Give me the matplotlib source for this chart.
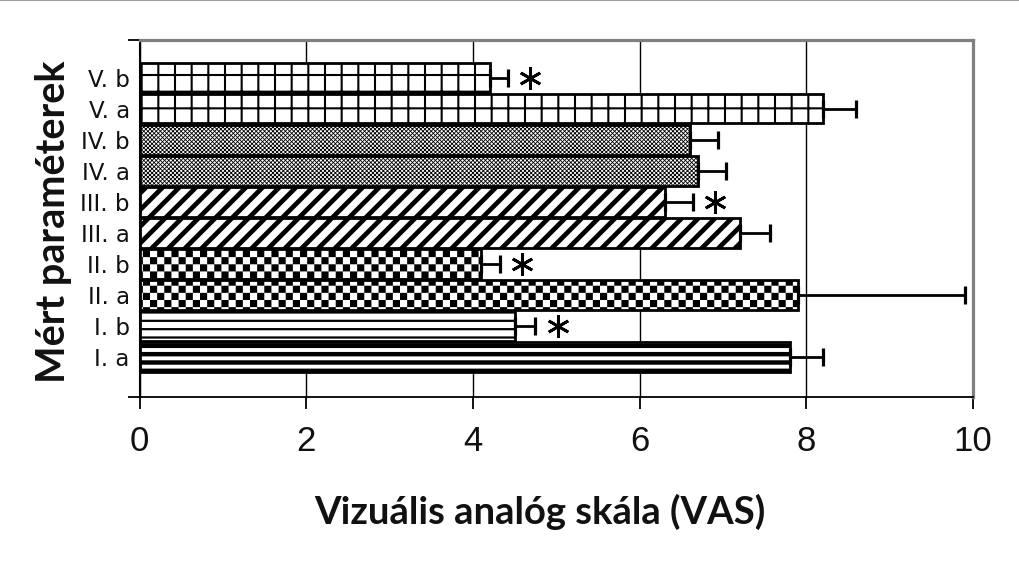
import warnings
warnings.filterwarnings("ignore")
import numpy as np
import matplotlib
matplotlib.use("Agg")
import matplotlib.pyplot as plt
import matplotlib.hatch as mhatch
from matplotlib.path import Path
from matplotlib.lines import Line2D

# ---------------- data ----------------
labels = ["I. a", "I. b", "II. a", "II. b", "III. a", "III. b",
          "IV. a", "IV. b", "V. a", "V. b"]
values = [7.8, 4.5, 7.9, 4.1, 7.2, 6.3, 6.7, 6.6, 8.2, 4.2]
errors = [0.4, 0.25, 2.0, 0.22, 0.36, 0.34, 0.34, 0.34, 0.4, 0.22]
significant = [False, True, False, True, False, True, False, False, False, True]
x_ticks = [0, 2, 4, 6, 8, 10]
x_label = "Vizuális analóg skála (VAS)"
y_label = "Mért paraméterek"

# hatch style per bar (groups I..V, a and b)
group_hatch = ["--", "--", "c", "c", "//", "//", "xxxxxxxx", "xxxxxxxx", "+", "+"]
group_hatch_lw = [3.2, 1.6, 0.0, 0.0, 3.4, 3.4, 0.6, 0.6, 1.5, 1.5]


# custom checkerboard hatch ('c')
class CheckerHatch(mhatch.HatchPatternBase):
    def __init__(self, hatch, density):
        self.n = 14 if "c" in hatch else 0
        self.num_vertices = (self.n * self.n // 2) * 5 if self.n else 0

    def set_vertices_and_codes(self, vertices, codes):
        s = 1.0 / self.n
        sq = np.array([[0, 0], [s, 0], [s, s], [0, s], [0, 0]], float)
        parts = []
        for i in range(self.n):
            for j in range(self.n):
                if (i + j) % 2 == 0:
                    parts.append(sq + [i * s, j * s])
        vertices[:] = np.concatenate(parts)
        codes[:] = np.tile([Path.MOVETO, Path.LINETO, Path.LINETO,
                            Path.LINETO, Path.CLOSEPOLY], len(parts))


mhatch._hatch_types.append(CheckerHatch)


def set_hatch_lw(patch, lw):
    if hasattr(patch, "set_hatch_linewidth"):
        patch.set_hatch_linewidth(lw)
    orig = patch.draw

    def draw(renderer, _orig=orig, _lw=lw):
        with plt.rc_context({"hatch.linewidth": _lw}):
            _orig(renderer)
    patch.draw = draw


fig = plt.figure(figsize=(10.2, 5.73), dpi=100)
ax = fig.add_axes([139.5 / 1020, 1 - 396.5 / 573, (973 - 139.5) / 1020,
                   (396.5 - 39.5) / 573])

y = np.arange(len(labels))
bars = ax.barh(y, values, height=0.95, color="white", edgecolor="black",
               linewidth=2.0, zorder=3)
for b, h, lw in zip(bars, group_hatch, group_hatch_lw):
    b.set_hatch(h)
    set_hatch_lw(b, lw)

ax.errorbar(values, y, xerr=[np.zeros(len(values)), errors], fmt="none",
            ecolor="black", elinewidth=2.0, capsize=6.5, capthick=2.3,
            zorder=4)

star_x = [v + e + 0.27 for v, e, s in zip(values, errors, significant) if s]
star_y = [yy for yy, s in zip(y, significant) if s]
ax.plot(star_x, star_y, linestyle="none", marker=(6, 2, 0), markersize=16,
        markeredgewidth=2.0, color="black", zorder=5)

ax.set_xlim(0, 10)
ax.set_ylim(-1.27, 10.23)
ax.set_xticks(x_ticks)
ax.set_xticklabels([str(t) for t in x_ticks])
ax.set_yticks(y)
ax.set_yticklabels(labels)
ax.set_yticks([-1.27, 10.23], minor=True)
ax.tick_params(axis="y", which="major", length=0, pad=7, labelcolor="#111111")
ax.tick_params(axis="y", which="minor", length=8.5, width=1.3,
               direction="out", color="black")
ax.tick_params(axis="x", which="major", length=8.5, width=1.3,
               direction="out", color="black", pad=12, labelcolor="#111111")
for t in ax.get_yticklabels():
    t.set_fontfamily("DejaVu Sans")
    t.set_fontsize(16.5)
for t in ax.get_xticklabels():
    t.set_fontfamily("Liberation Sans")
    t.set_fontsize(25)

ax.grid(axis="x", color="black", linewidth=1.0, zorder=0)
ax.set_axisbelow(True)

for side in ("top", "right"):
    ax.spines[side].set_color("#808080")
    ax.spines[side].set_linewidth(2.3)
ax.spines["left"].set_color("black")
ax.spines["left"].set_linewidth(1.5)
ax.spines["bottom"].set_color("black")
ax.spines["bottom"].set_linewidth(1.3)

ax.set_xlabel(x_label, fontfamily="Lato", fontweight="bold",
              fontsize=27.5, color="#111111")
ax.xaxis.set_label_coords((540 - 139.5) / (973 - 139.5),
                          (396.5 - 512) / (396.5 - 39.5))
ax.xaxis.label.set_va("center")
ax.set_ylabel(y_label, fontfamily="Lato", fontweight="bold",
              fontsize=28.5, color="#111111")
ax.yaxis.set_label_coords((54 - 139.5) / (973 - 139.5),
                          (396.5 - 222) / (396.5 - 39.5))
ax.yaxis.label.set_va("center")

fig.add_artist(Line2D([0, 1], [0.9995, 0.9995], transform=fig.transFigure,
                      color="#a0a0a0", linewidth=1.5))

fig.savefig("out.png", dpi=100)
